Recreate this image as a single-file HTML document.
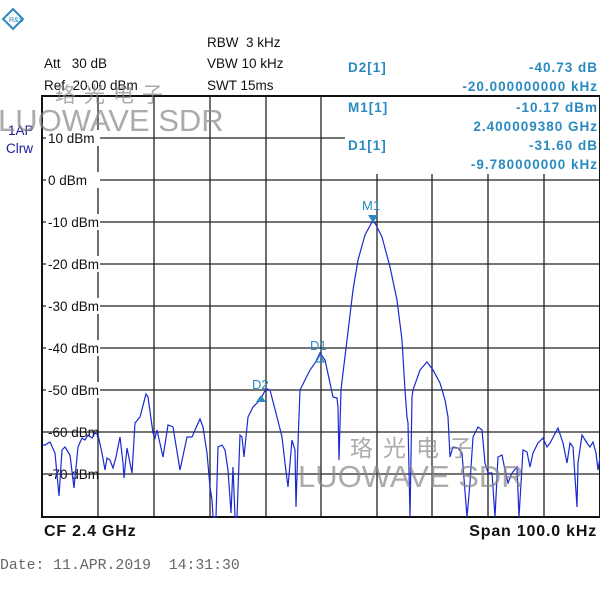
<!DOCTYPE html>
<html><head><meta charset="utf-8"><style>
html,body{margin:0;padding:0;background:#fff;width:600px;height:600px;overflow:hidden}
svg{display:block}
text{font-family:"Liberation Sans","DejaVu Sans",sans-serif;white-space:pre}
text.mono{font-family:"Liberation Mono","DejaVu Sans Mono",monospace}
text.cjk{font-family:"Noto Sans CJK SC","WenQuanYi Zen Hei",sans-serif}
</style></head><body>
<svg width="600" height="600" viewBox="0 0 600 600" xmlns="http://www.w3.org/2000/svg" xml:space="preserve">
<rect width="600" height="600" fill="#fff"/>
<g transform="translate(13,19) rotate(45)"><rect x="-7" y="-7" width="14" height="14" fill="none" stroke="#2a8ac0" stroke-width="2"/></g>
<text x="9" y="22" font-size="7" fill="#2a8ac0">R&amp;S</text>
<g font-size="13.5" fill="#111">
<text x="207" y="47">RBW  3 kHz</text>
<text x="44" y="68">Att   30 dB</text>
<text x="207" y="68">VBW 10 kHz</text>
<text x="44" y="90">Ref  20.00 dBm</text>
<text x="207" y="90">SWT 15ms</text>
</g>
<g font-size="13.5" fill="#1a1aa0"><text x="8" y="135">1AP</text><text x="6" y="153">Clrw</text></g>
<g stroke="#222" stroke-width="1.3">
<line x1="42" y1="138" x2="345" y2="138"/>
<line x1="42" y1="180" x2="600" y2="180"/>
<line x1="42" y1="222" x2="600" y2="222"/>
<line x1="42" y1="264" x2="600" y2="264"/>
<line x1="42" y1="306" x2="600" y2="306"/>
<line x1="42" y1="348" x2="600" y2="348"/>
<line x1="42" y1="390" x2="600" y2="390"/>
<line x1="42" y1="432" x2="600" y2="432"/>
<line x1="42" y1="474" x2="600" y2="474"/>
<line x1="98" y1="96" x2="98" y2="517"/>
<line x1="154" y1="96" x2="154" y2="517"/>
<line x1="210" y1="96" x2="210" y2="517"/>
<line x1="266" y1="96" x2="266" y2="517"/>
<line x1="321" y1="96" x2="321" y2="517"/>
<line x1="377" y1="174" x2="377" y2="517"/>
<line x1="432" y1="174" x2="432" y2="517"/>
<line x1="488" y1="174" x2="488" y2="517"/>
<line x1="544" y1="174" x2="544" y2="517"/>
</g>
<rect x="42" y="96" width="558" height="421" fill="none" stroke="#111" stroke-width="2"/>
<g font-size="13.5" fill="#111">
<rect x="46" y="130" width="54" height="16" fill="#fff"/><text x="48" y="143">10 dBm</text>
<rect x="46" y="172" width="54" height="16" fill="#fff"/><text x="48" y="185">0 dBm</text>
<rect x="46" y="214" width="54" height="16" fill="#fff"/><text x="48" y="227">-10 dBm</text>
<rect x="46" y="256" width="54" height="16" fill="#fff"/><text x="48" y="269">-20 dBm</text>
<rect x="46" y="298" width="54" height="16" fill="#fff"/><text x="48" y="311">-30 dBm</text>
<rect x="46" y="340" width="54" height="16" fill="#fff"/><text x="48" y="353">-40 dBm</text>
<rect x="46" y="382" width="54" height="16" fill="#fff"/><text x="48" y="395">-50 dBm</text>
<text x="48" y="437">-60 dBm</text>
<text x="48" y="479">-70 dBm</text>
</g>
<g font-size="13.5" font-weight="bold" fill="#2a8ac0" letter-spacing="1">
<text x="348" y="72">D2[1]</text><text x="598" y="72" text-anchor="end">-40.73 dB</text>
<text x="598" y="91" text-anchor="end">-20.000000000 kHz</text>
<text x="348" y="112">M1[1]</text><text x="598" y="112" text-anchor="end">-10.17 dBm</text>
<text x="598" y="131" text-anchor="end">2.400009380 GHz</text>
<text x="348" y="150">D1[1]</text><text x="598" y="150" text-anchor="end">-31.60 dB</text>
<text x="598" y="169" text-anchor="end">-9.780000000 kHz</text>
</g>
<polyline fill="none" stroke="#1a2ad0" stroke-width="1.2" points="42,445 45,445 50,442 55,453 59,496 62,450 65,447 70,455 74,488 78,447 82,438 85,440 88,435 92,438 95,433 98,435 102,453 105,470 107,458 110,460 113,468 116,457 120,437 123,463 124,478 127,448 132,473 135,423 140,417 146,394 148,397 153,433 155,438 157,430 163,457 168,425 173,427 180,470 187,437 192,437 195,430 200,419 203,427 207,453 210,487 212,500 213,517 216,517 218,447 222,445 225,450 228,470 231,513 233,467 235,517 237,517 240,435 242,437 244,457 248,417 253,407 260,400 266,389 270,390 277,417 282,437 285,463 288,487 292,440 295,450 296,507 298,443 300,390 305,380 310,370 315,363 320,353 325,360 330,383 333,397 337,398 338,407 339,460 341,390 343,373 347,340 353,290 358,260 365,235 372,222 375,223 382,237 390,267 397,300 402,340 405,390 407,417 408,423 410,517 412,397 413,390 420,370 427,362 433,370 440,383 445,400 448,417 450,457 453,447 458,448 462,453 467,517 470,483 473,437 478,427 482,430 485,463 488,473 492,473 495,517 498,457 502,455 505,470 508,483 512,473 517,467 519,517 523,450 527,452 530,467 533,453 538,443 543,438 547,447 550,443 558,428 563,443 567,463 570,443 573,447 577,507 578,463 582,435 587,443 590,447 593,442 596,453 598,470 600,457"/>
<g fill="#2a8ac0" font-size="13">
<polygon points="368,215 378,215 373,223"/><text x="362" y="210">M1</text>
<polygon points="316,362 324,362 320,355" fill="none" stroke="#2a8ac0" stroke-width="1.3"/><text x="310" y="350">D1</text>
<polygon points="256,402 266,402 261,395"/><text x="252" y="389">D2</text>
</g>
<g fill="#888" fill-opacity="0.7">
<text class="cjk" x="55" y="102" font-size="21" letter-spacing="8">珞光电子</text>
<text x="-2" y="131" font-size="31">LUOWAVE SDR</text>
<text class="cjk" x="350" y="456" font-size="23" letter-spacing="10">珞光电子</text>
<text x="298" y="487" font-size="31">LUOWAVE SDR</text>
</g>
<g font-size="16" font-weight="bold" fill="#111" letter-spacing="0.8">
<text x="44" y="536">CF 2.4 GHz</text>
<text x="597" y="536" text-anchor="end">Span 100.0 kHz</text>
</g>
<text class="mono" x="0" y="569" font-size="14.8" fill="#666">Date: 11.APR.2019  14:31:30</text>
</svg>
</body></html>
